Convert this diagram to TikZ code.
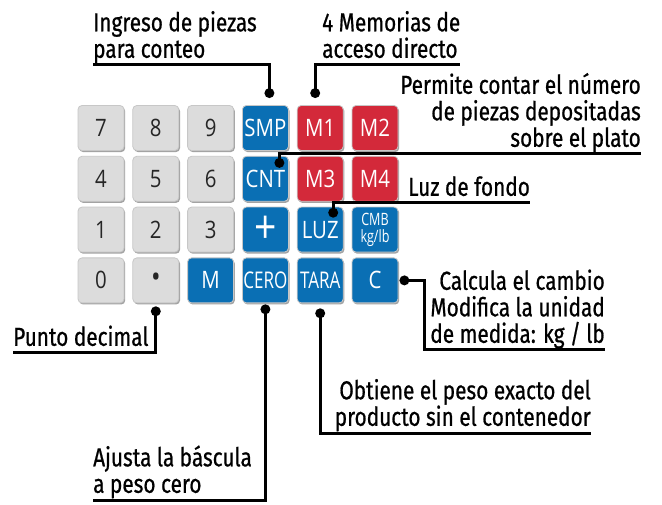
\documentclass[tikz,border=0pt]{standalone}
\usepackage{fontspec}
\setmainfont{Fira Sans}[FakeStretch=0.8, FakeBold=0.7]
\newfontfamily\keyfont{Open Sans}[FakeStretch=0.85]
\newfontfamily\keynarrow{Open Sans}[FakeStretch=0.74]
\usepackage{xcolor}
\usepackage{tikz}
\usetikzlibrary{positioning, shadows}

\definecolor{keygray}{HTML}{DCDCDC}
\definecolor{keyblue}{HTML}{0A6FB4}
\definecolor{keyred}{HTML}{D3293A}

\begin{document}
\begin{tikzpicture}[
          x=1pt, y=-1pt,
          node distance=5pt and 8pt,
          key/.style={rectangle, rounded corners=4pt, minimum width=46pt, minimum height=45pt, inner sep=0pt,
            draw=black!22, line width=0.8pt, font=\keyfont\fontsize{24}{24}\selectfont,
            drop shadow={shadow xshift=1.2pt, shadow yshift=-1.6pt, fill=black!45, opacity=0.8}},
          numkey/.style={key, fill=keygray, text=black!85},
          bluekey/.style={key, fill=keyblue, text=white},
          redkey/.style={key, fill=keyred, text=white},
          smallkey/.style={font=\keynarrow\fontsize{23}{23}\selectfont},
          note/.style={inner sep=0pt, text depth=7pt, font=\fontsize{26}{26.5}\selectfont},
          lead/.style={line width=3pt}
        ]
          \fill[white] (0,0) rectangle (662,505);
          \useasboundingbox (0,0) rectangle (662,505);

          % keyboard
          \node[numkey] (k7) at (101,128) {7};
          \node[numkey, right=of k7] (k8) {8};
          \node[numkey, right=of k8] (k9) {9};
          \node[bluekey, right=of k9] (ksmp) {SMP};
          \node[redkey, right=of ksmp] (km1) {M1};
          \node[redkey, right=of km1] (km2) {M2};

          \node[numkey, below=of k7] (k4) {4};
          \node[numkey, right=of k4] (k5) {5};
          \node[numkey, right=of k5] (k6) {6};
          \node[bluekey, right=of k6] (kcnt) {CNT};
          \node[redkey, right=of kcnt] (km3) {M3};
          \node[redkey, right=of km3] (km4) {M4};

          \node[numkey, below=of k4] (k1) {1};
          \node[numkey, right=of k1] (k2) {2};
          \node[numkey, right=of k2] (k3) {3};
          \node[bluekey, right=of k3, font=\keyfont\fontsize{46}{46}\selectfont] (kplus) {+};
          \node[bluekey, right=of kplus] (kluz) {LUZ};
          \node[bluekey, right=of kluz, align=center, font=\keynarrow\fontsize{17}{17}\selectfont] (kcmb) {CMB\\kg/lb};

          \node[numkey, below=of k1] (k0) {0};
          \node[numkey, right=of k0, font=\keyfont\fontsize{30}{30}\selectfont] (kdot) {•};
          \node[bluekey, right=of kdot] (km) {M};
          \node[bluekey, right=of km, smallkey] (kcero) {CERO};
          \node[bluekey, right=of kcero, smallkey] (ktara) {TARA};
          \node[bluekey, right=of ktara] (kc) {C};

          % notes
          \node[note, anchor=south west, align=left] (tingreso) at (93,65) {Ingreso de piezas\\para conteo};
          \node[note, anchor=south west, align=left] (tmemoria) at (322,65) {4 Memorias de\\acceso directo};
          \node[note, anchor=south east, align=right] (tcontar) at (641,154) {Permite contar el número\\de piezas depositadas\\sobre el plato};
          \node[note, anchor=south west, align=left] (tluz) at (408,203) {Luz de fondo};
          \node[note, anchor=south east, align=right] (tcambio) at (605,350) {Calcula el cambio\\Modifica la unidad\\de medida: kg / lb};
          \node[note, anchor=south east, align=right] (ttara) at (591,433) {Obtiene el peso exacto del\\producto sin el contenedor};
          \node[note, anchor=south west, align=left] (tcero) at (93,500) {Ajusta la báscula\\a peso cero};
          \node[note, anchor=south west] (tpunto) at (13,353) {Punto decimal};

          % dots
          \coordinate (dsmp) at ([xshift=4pt, yshift=12pt]ksmp.north);
          \coordinate (dm1) at ([xshift=-5pt, yshift=12pt]km1.north);
          \coordinate (dcnt) at ([xshift=14pt, yshift=-7pt]kcnt.north);
          \coordinate (dluz) at ([xshift=13pt, yshift=-6pt]kluz.north);
          \coordinate (dc) at ([xshift=6pt]kc.east);
          \coordinate (dtara) at ([yshift=-10pt]ktara.south);
          \coordinate (dcero) at ([yshift=-6pt]kcero.south);
          \coordinate (ddot) at ([yshift=-8pt]kdot.south);

          % connectors
          \draw[lead] (dsmp) |- (tingreso.south west);
          \draw[lead] (dm1) |- (tmemoria.south east);
          \draw[lead] (dcnt) |- (tcontar.south east);
          \draw[lead] (dluz) |- (tluz.south east);
          \draw[lead] (dc) -- ++(20,0) |- (tcambio.south east);
          \draw[lead] (dtara) |- (ttara.south east);
          \draw[lead] (dcero) |- (tcero.south west);
          \draw[lead] (ddot) |- (tpunto.south west);
          \foreach \d in {dsmp, dm1, dcnt, dluz, dc, dtara, dcero, ddot}
            \fill (\d) circle (5pt);
        \end{tikzpicture}
\end{document}
